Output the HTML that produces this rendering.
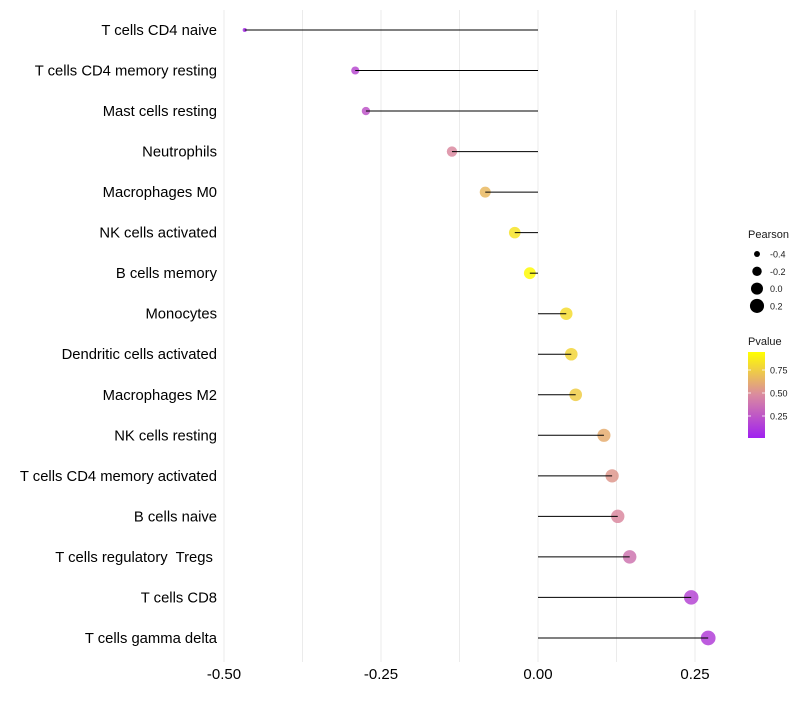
<!DOCTYPE html>
<html><head><meta charset="utf-8"><style>
body{margin:0;background:#fff;font-family:"Liberation Sans",sans-serif}
text{white-space:pre}
</style></head><body>
<svg id="c" width="800" height="700" font-family="Liberation Sans, sans-serif">
<defs><linearGradient id="pg" x1="0" y1="1" x2="0" y2="0">
<stop offset="0" stop-color="#a020f0"/><stop offset="0.5" stop-color="#da8aa0"/><stop offset="1" stop-color="#ffff00"/></linearGradient></defs>
</svg>
<script>
const categories=["T cells CD4 naive","T cells CD4 memory resting","Mast cells resting","Neutrophils","Macrophages M0","NK cells activated","B cells memory","Monocytes","Dendritic cells activated","Macrophages M2","NK cells resting","T cells CD4 memory activated","B cells naive","T cells regulatory  Tregs ","T cells CD8","T cells gamma delta"];
const pearson=[-0.467,-0.291,-0.274,-0.137,-0.084,-0.037,-0.013,0.045,0.053,0.060,0.105,0.118,0.127,0.146,0.244,0.271];
const pvalue=[0.05,0.2,0.25,0.5,0.7,0.88,0.98,0.85,0.82,0.78,0.65,0.56,0.5,0.4,0.18,0.15];
const xTicks=[-0.5,-0.25,0,0.25];
const xTickLabels=["-0.50","-0.25","0.00","0.25"];
const gridVals=[-0.5,-0.375,-0.25,-0.125,0,0.125,0.25];
const sizeLegend=[-0.4,-0.2,0.0,0.2];
const colorTicks=[0.25,0.5,0.75];

const svg=document.getElementById('c');const NS="http://www.w3.org/2000/svg";
function mk(t,a,p){const e=document.createElementNS(NS,t);for(const k in a)e.setAttribute(k,a[k]);(p||svg).appendChild(e);return e;}
const xS=v=>538+v*628;
const yS=i=>30+i*40.53;
const rS=v=>Math.sqrt(Math.max(1,36+68*v));
function lerp(a,b,t){return a.map((x,i)=>Math.round(x+(b[i]-x)*t));}
function col(p){const s=[[160,32,240],[218,138,160],[255,255,0]];const c=p<0.5?lerp(s[0],s[1],p/0.5):lerp(s[1],s[2],(p-0.5)/0.5);return `rgb(${c})`;}

gridVals.forEach(v=>{const g=mk('line',{x1:xS(v),x2:xS(v),y1:10,y2:662,stroke:'#ebebeb','stroke-width':1});

});
xTicks.forEach((v,i)=>{const t=mk('text',{x:xS(v),y:679,'text-anchor':'middle','font-size':15,fill:'#000'});t.textContent=xTickLabels[i];

});
categories.forEach((c,i)=>{
const y=yS(i);
const t=mk('text',{x:217,y:y+5,'text-anchor':'end','font-size':14.8,fill:'#000'});t.textContent=c;


const pt=mk('circle',{cx:xS(pearson[i]),cy:y,r:rS(pearson[i]),fill:col(pvalue[i]),'fill-opacity':0.85});


const l=mk('line',{x1:xS(0),x2:xS(pearson[i]),y1:y,y2:y,stroke:'#000','stroke-width':1});


});
const lt=mk('text',{x:748,y:238,'font-size':11,fill:'#1a1a1a'});lt.textContent='Pearson';


sizeLegend.forEach((v,i)=>{const y=254+i*17.3;
const c=mk('circle',{cx:757,cy:y,r:rS(v),fill:'#000'});


const t=mk('text',{x:770,y:y+3.5,'font-size':9,fill:'#1a1a1a'});t.textContent=v===0?'0.0':v.toFixed(1);

});
const ct=mk('text',{x:748,y:345,'font-size':11,fill:'#1a1a1a'});ct.textContent='Pvalue';


const bar=mk('rect',{x:748,y:352,width:17,height:86,fill:'url(#pg)'});


colorTicks.forEach(v=>{const y=439-v*92;
mk('line',{x1:748,x2:751,y1:y,y2:y,stroke:'#fff','stroke-width':0.8});mk('line',{x1:762,x2:765,y1:y,y2:y,stroke:'#fff','stroke-width':0.8});
const t=mk('text',{x:770,y:y+3.5,'font-size':9,fill:'#1a1a1a'});t.textContent=v.toFixed(2);

});
</script>
</body></html>
